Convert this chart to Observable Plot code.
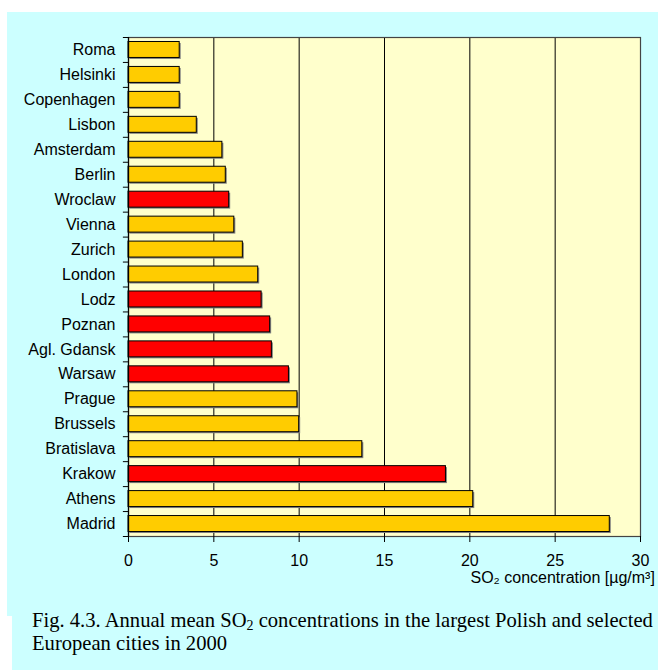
<!DOCTYPE html>
<html>
<head>
<meta charset="utf-8">
<script src="https://cdn.jsdelivr.net/npm/d3@7"></script>
<script src="https://cdn.jsdelivr.net/npm/@observablehq/plot@0.6"></script>
<style>
  html, body { margin: 0; padding: 0; background: #ffffff; width: 658px; height: 671px; overflow: hidden; }
  #bg1 { position: absolute; left: 7px; top: 12px; width: 651px; height: 604px; background: #CCFFFF; }
  #bg2 { position: absolute; left: 12px; top: 616px; width: 646px; height: 54px; background: #CCFFFF; }
  #chart { position: absolute; left: 0; top: 0; width: 658px; height: 594px; }
  #caption { position: absolute; left: 32px; top: 609px; width: 626px; font-family: "Liberation Serif", "Times New Roman", serif; font-size: 20.6px; line-height: 23px; color: #000; white-space: nowrap; }
  #caption sub { font-size: 0.68em; line-height: 0; vertical-align: -0.2em; }
</style>
</head>
<body>
<div id="bg1"></div>
<div id="bg2"></div>
<div id="chart"></div>
<div id="caption">Fig. 4.3. Annual mean SO<sub>2</sub> concentrations in the largest Polish and selected<br>European cities in 2000</div>
<script>
const cities = ["Roma", "Helsinki", "Copenhagen", "Lisbon", "Amsterdam", "Berlin", "Wroclaw", "Vienna", "Zurich", "London", "Lodz", "Poznan", "Agl. Gdansk", "Warsaw", "Prague", "Brussels", "Bratislava", "Krakow", "Athens", "Madrid"];
const values = [3.0, 3.0, 3.0, 4.0, 5.5, 5.7, 5.9, 6.2, 6.7, 7.6, 7.8, 8.3, 8.4, 9.4, 9.9, 10.0, 13.7, 18.6, 20.2, 28.2];
const polish = ["Wroclaw", "Lodz", "Poznan", "Agl. Gdansk", "Warsaw", "Krakow"];
const xTicks = [0, 5, 10, 15, 20, 25, 30];
const gridValues = [5, 10, 15, 20, 25];
const xTitle = "SO₂ concentration [µg/m³]";

const data = cities.map((c, i) => ({city: c, value: values[i], polish: polish.includes(c)}));
const step = (536 - 37) / cities.length;

const chart = Plot.plot({
  width: 658,
  height: 594,
  marginLeft: 128,
  marginRight: 18,
  marginTop: 37,
  marginBottom: 58,
  style: {fontFamily: "'Liberation Sans', Arial, sans-serif", fontSize: "16px", background: "transparent", color: "#000"},
  x: {domain: [0, 30], ticks: xTicks},
  y: {domain: cities, paddingInner: 0.36, paddingOuter: 0.18, round: false},
  marks: [
    Plot.frame({fill: "#FFFFCC"}),
    Plot.ruleX(gridValues, {stroke: "#000", strokeWidth: 1}),
    Plot.barX(data, {y: "city", x: "value", fill: "#808080", dx: 1.5, dy: 1.5}),
    Plot.barX(data, {y: "city", x: "value", fill: d => d.polish ? "#FF0000" : "#FFCC00", stroke: "#000", strokeWidth: 1}),
    Plot.frame({stroke: "#444", strokeWidth: 1.2}),
    Plot.ruleX([0], {stroke: "#000", strokeWidth: 1.2}),
    Plot.ruleY(cities, {y: d => d, x1: -0.3, x2: 0, dy: -step / 2, stroke: "#000", clip: false}),
    Plot.ruleY([cities[cities.length - 1]], {y: d => d, x1: -0.3, x2: 0, dy: step / 2, stroke: "#000", clip: false}),
    Plot.axisY({tickSize: 0, tickPadding: 13, label: null, fontSize: 16}),
    Plot.axisX({ticks: xTicks, tickSize: 6, tickPadding: 12, label: null, fontSize: 16, stroke: "#000"}),
    Plot.text([xTitle], {x: () => 30, text: d => d, frameAnchor: "bottom", textAnchor: "start", dx: -170, dy: 46, fontSize: 16, fill: "#000", clip: false})
  ]
});
document.getElementById("chart").appendChild(chart);
</script>
</body>
</html>
